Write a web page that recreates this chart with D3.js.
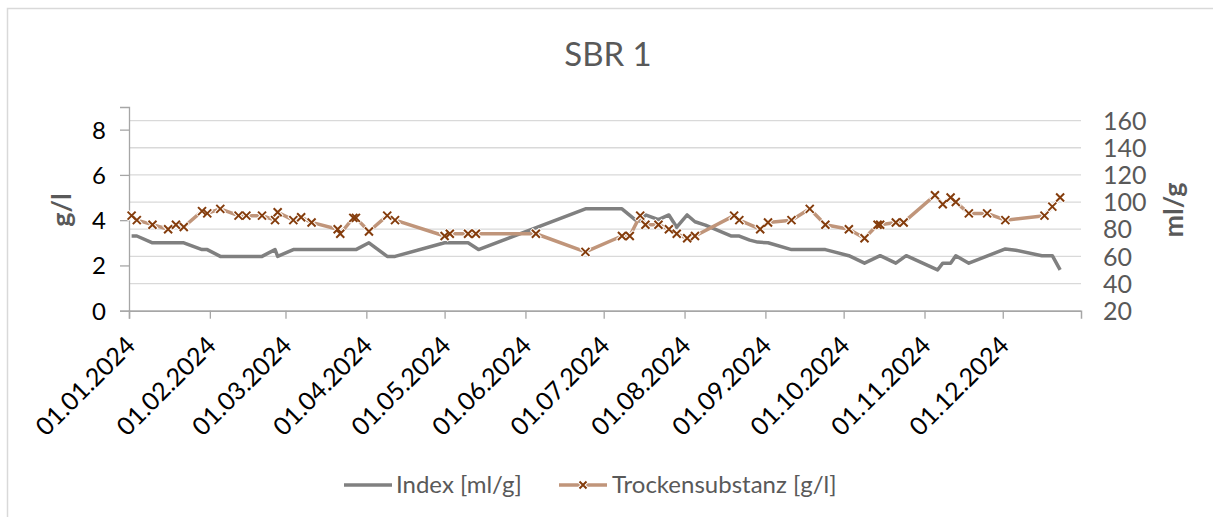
<!DOCTYPE html>
<html>
<head>
<meta charset="utf-8">
<script src="https://cdn.jsdelivr.net/npm/d3@7"></script>
<style>
  body { margin: 0; background: #fff; }
  svg text { font-family: "Century Gothic", Lato, sans-serif; font-weight: 400; }
</style>
</head>
<body>
<div id="chart"></div>
<script>
// Index (ml/g), right axis
const indexDates = ["2024-01-02","2024-01-04","2024-01-10","2024-01-22","2024-01-29","2024-01-31","2024-02-05","2024-02-21","2024-02-26","2024-02-27","2024-03-04","2024-03-28","2024-04-02","2024-04-09","2024-04-12","2024-05-01","2024-05-10","2024-05-14","2024-06-24","2024-07-08","2024-07-13","2024-07-15","2024-07-17","2024-07-22","2024-07-26","2024-07-29","2024-08-02","2024-08-05","2024-08-09","2024-08-19","2024-08-22","2024-08-26","2024-08-29","2024-09-02","2024-09-11","2024-09-24","2024-10-03","2024-10-09","2024-10-15","2024-10-21","2024-10-25","2024-11-06","2024-11-08","2024-11-11","2024-11-13","2024-11-18","2024-12-02","2024-12-06","2024-12-16","2024-12-20","2024-12-23"];
const indexValues = [75,75,70,70,65,65,60,60,65,60,65,65,70,60,60,70,70,65,95,95,87,86,90.5,87,90.5,81.5,90.5,85.5,83,75,75,72,70.5,70,65,65,60.5,55,60.5,55,60.5,50,55,55,60.5,55,65.5,64.5,60.5,60.5,50];

// Trockensubstanz (g/l), left axis
const tsDates = ["2024-01-02","2024-01-04","2024-01-10","2024-01-16","2024-01-19","2024-01-22","2024-01-29","2024-01-31","2024-02-05","2024-02-12","2024-02-15","2024-02-21","2024-02-26","2024-02-27","2024-03-04","2024-03-07","2024-03-11","2024-03-21","2024-03-22","2024-03-27","2024-03-28","2024-04-02","2024-04-09","2024-04-12","2024-05-01","2024-05-03","2024-05-10","2024-05-13","2024-06-05","2024-06-24","2024-07-08","2024-07-11","2024-07-15","2024-07-17","2024-07-22","2024-07-26","2024-07-29","2024-08-02","2024-08-05","2024-08-20","2024-08-22","2024-08-30","2024-09-02","2024-09-11","2024-09-18","2024-09-24","2024-10-03","2024-10-09","2024-10-14","2024-10-15","2024-10-21","2024-10-24","2024-11-05","2024-11-08","2024-11-11","2024-11-13","2024-11-18","2024-11-25","2024-12-02","2024-12-17","2024-12-20","2024-12-23"];
const tsValues = [4.2,4.0,3.8,3.6,3.8,3.7,4.4,4.3,4.5,4.2,4.2,4.2,4.0,4.35,4.0,4.13,3.9,3.6,3.4,4.1,4.1,3.5,4.2,4.0,3.3,3.4,3.4,3.4,3.4,2.6,3.3,3.3,4.2,3.8,3.8,3.6,3.4,3.2,3.3,4.2,4.0,3.6,3.9,4.0,4.5,3.8,3.6,3.2,3.8,3.8,3.9,3.9,5.1,4.7,5.0,4.8,4.3,4.3,4.0,4.2,4.6,5.0];

const leftTicks = [0, 2, 4, 6, 8];
const rightTicks = [20, 40, 60, 80, 100, 120, 140, 160];
const seriesNames = ["Index [ml/g]", "Trockensubstanz [g/l]"];

const parse = d3.timeParse("%Y-%m-%d");
const indexData = indexDates.map((d, i) => ({ date: parse(d), value: indexValues[i] }));
const tsData = tsDates.map((d, i) => ({ date: parse(d), value: tsValues[i] }));

const width = 1213, height = 517;
const svg = d3.select("#chart").append("svg")
    .attr("width", width)
    .attr("height", height);

// chart frame
svg.append("rect")
    .attr("x", 7.5).attr("y", 8.5)
    .attr("width", width).attr("height", height)
    .attr("fill", "none")
    .attr("stroke", "#d9d9d9")
    .attr("stroke-width", 1.5);

const x = d3.scaleTime()
    .domain([parse("2024-01-01"), parse("2024-12-31")])
    .range([129, 1081]);
const yLeft = d3.scaleLinear().domain([0, 9]).range([310.7, 107]);
const yRight = d3.scaleLinear().domain([20, 170]).range([310.7, 107]);

// gridlines (from right axis)
svg.append("g").selectAll("line")
    .data(rightTicks)
    .enter().append("line")
    .attr("x1", 129).attr("x2", 1081)
    .attr("y1", d => yRight(d)).attr("y2", d => yRight(d))
    .attr("stroke", "#d9d9d9")
    .attr("stroke-width", 1.3);

// title
svg.append("text")
    .attr("x", 608).attr("y", 66)
    .attr("text-anchor", "middle")
    .attr("fill", "#595959")
    .style("font-size", "33px")
    .text("SBR 1");

// left axis
const leftAxis = svg.append("g")
    .attr("transform", "translate(129,0)")
    .call(d3.axisLeft(yLeft).tickValues(leftTicks).tickSize(9).tickPadding(14));
leftAxis.select(".domain").attr("stroke", "#a6a6a6").attr("stroke-width", 1.3);
leftAxis.selectAll(".tick line").attr("stroke", "#a6a6a6").attr("stroke-width", 1.3);
leftAxis.selectAll("text")
    .attr("fill", "#000")
    .style("font-size", "24px")
    .attr("dy", "0.35em");

// right axis
const rightAxis = svg.append("g")
    .attr("transform", "translate(1081,0)")
    .call(d3.axisRight(yRight).tickValues(rightTicks).tickSize(0).tickPadding(22));
rightAxis.select(".domain").remove();
rightAxis.selectAll("text")
    .attr("fill", "#595959")
    .style("font-size", "25px")
    .attr("dy", "0.35em");

// x axis
const xAxis = svg.append("g")
    .attr("transform", "translate(0,310.7)")
    .call(d3.axisBottom(x).ticks(d3.timeMonth.every(1)).tickFormat(d3.timeFormat("%d.%m.%Y")).tickSize(8));
xAxis.select(".domain").attr("stroke", "#a6a6a6").attr("stroke-width", 1.5);
xAxis.selectAll(".tick line").attr("stroke", "#a6a6a6").attr("stroke-width", 1.3);
xAxis.selectAll("text")
    .attr("fill", "#000")
    .style("font-size", "25px")
    .attr("text-anchor", "end")
    .attr("transform", "translate(1,30) rotate(-45)")
    .attr("dy", "0.35em")
    .attr("y", 0);

// axis titles
svg.append("text")
    .attr("transform", "translate(71,210) rotate(-90)")
    .attr("text-anchor", "middle")
    .attr("fill", "#595959")
    .style("font-size", "27px")
    .style("font-weight", "bold")
    .text("g/l");
svg.append("text")
    .attr("transform", "translate(1183,210) rotate(-90)")
    .attr("text-anchor", "middle")
    .attr("fill", "#595959")
    .style("font-size", "27px")
    .style("font-weight", "bold")
    .text("ml/g");

// Index line
svg.append("path")
    .datum(indexData)
    .attr("fill", "none")
    .attr("stroke", "#808080")
    .attr("stroke-width", 3.5)
    .attr("stroke-linejoin", "round")
    .attr("d", d3.line().x(d => x(d.date)).y(d => yRight(d.value)));

// Trockensubstanz line
svg.append("path")
    .datum(tsData)
    .attr("fill", "none")
    .attr("stroke", "#c0957a")
    .attr("stroke-width", 3.5)
    .attr("stroke-linejoin", "round")
    .attr("d", d3.line().x(d => x(d.date)).y(d => yLeft(d.value)));

// x markers
function cross(sel, cx, cy, s, color, w) {
    sel.append("path")
        .attr("d", `M${cx - s},${cy - s}L${cx + s},${cy + s}M${cx - s},${cy + s}L${cx + s},${cy - s}`)
        .attr("stroke", color)
        .attr("stroke-width", w)
        .attr("fill", "none");
}
const markers = svg.append("g");
tsData.forEach(d => cross(markers, x(d.date), yLeft(d.value), 4.5, "#fff", 4));
tsData.forEach(d => cross(markers, x(d.date), yLeft(d.value), 4, "#843c0c", 2));

// legend
const legend = svg.append("g");
legend.append("line")
    .attr("x1", 344).attr("x2", 392).attr("y1", 485).attr("y2", 485)
    .attr("stroke", "#808080").attr("stroke-width", 3.5);
legend.append("text")
    .attr("x", 396).attr("y", 493)
    .attr("fill", "#595959")
    .style("font-size", "24px")
    .text(seriesNames[0]);
legend.append("line")
    .attr("x1", 559).attr("x2", 607).attr("y1", 485).attr("y2", 485)
    .attr("stroke", "#c0957a").attr("stroke-width", 3.5);
cross(legend, 583, 485, 4.5, "#fff", 4);
cross(legend, 583, 485, 3.5, "#843c0c", 2);
legend.append("text")
    .attr("x", 612).attr("y", 493)
    .attr("fill", "#595959")
    .style("font-size", "24px")
    .text(seriesNames[1]);
</script>
</body>
</html>
